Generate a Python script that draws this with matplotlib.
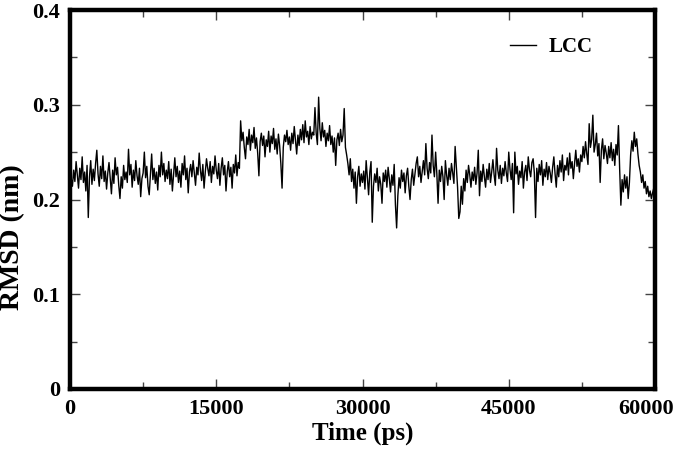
import matplotlib
matplotlib.use("Agg")
import matplotlib.pyplot as plt
from matplotlib.ticker import MultipleLocator
import matplotlib.transforms as mtransforms

time_step_ps = 125
rmsd_rows = [
    [0.210, 0.222, 0.214, 0.231, 0.219, 0.240, 0.226, 0.212, 0.233, 0.221, 0.245, 0.218, 0.229, 0.209, 0.236, 0.181, 0.224, 0.241, 0.216, 0.232],
    [0.220, 0.238, 0.252, 0.227, 0.214, 0.235, 0.222, 0.246, 0.219, 0.230, 0.211, 0.228, 0.239, 0.223, 0.206, 0.231, 0.217, 0.244, 0.226, 0.234],
    [0.215, 0.201, 0.224, 0.212, 0.236, 0.221, 0.229, 0.218, 0.253, 0.226, 0.237, 0.213, 0.231, 0.220, 0.241, 0.225, 0.216, 0.233, 0.203, 0.222],
    [0.228, 0.250, 0.223, 0.235, 0.214, 0.205, 0.227, 0.248, 0.221, 0.233, 0.217, 0.229, 0.210, 0.236, 0.224, 0.250, 0.226, 0.238, 0.219, 0.231],
    [0.222, 0.240, 0.216, 0.232, 0.209, 0.227, 0.244, 0.224, 0.235, 0.218, 0.230, 0.213, 0.238, 0.226, 0.246, 0.221, 0.233, 0.207, 0.229, 0.237],
    [0.224, 0.241, 0.228, 0.215, 0.234, 0.226, 0.249, 0.231, 0.220, 0.237, 0.212, 0.229, 0.243, 0.233, 0.225, 0.240, 0.218, 0.235, 0.227, 0.246],
    [0.231, 0.222, 0.238, 0.215, 0.233, 0.244, 0.226, 0.236, 0.209, 0.229, 0.240, 0.224, 0.234, 0.212, 0.237, 0.228, 0.247, 0.225, 0.239, 0.233],
    [0.283, 0.262, 0.271, 0.255, 0.243, 0.266, 0.258, 0.274, 0.252, 0.268, 0.260, 0.276, 0.254, 0.265, 0.249, 0.225, 0.261, 0.270, 0.257, 0.267],
    [0.245, 0.263, 0.256, 0.272, 0.250, 0.267, 0.259, 0.275, 0.253, 0.264, 0.248, 0.269, 0.257, 0.238, 0.212, 0.255, 0.268, 0.261, 0.273, 0.258],
    [0.266, 0.252, 0.270, 0.259, 0.277, 0.262, 0.248, 0.268, 0.257, 0.274, 0.263, 0.279, 0.260, 0.283, 0.266, 0.272, 0.258, 0.277, 0.264, 0.271],
    [0.268, 0.297, 0.270, 0.258, 0.308, 0.275, 0.262, 0.281, 0.266, 0.273, 0.256, 0.270, 0.262, 0.278, 0.258, 0.267, 0.250, 0.265, 0.236, 0.263],
    [0.270, 0.257, 0.274, 0.261, 0.268, 0.296, 0.255, 0.247, 0.238, 0.226, 0.243, 0.219, 0.232, 0.212, 0.229, 0.196, 0.224, 0.235, 0.214, 0.227],
    [0.218, 0.230, 0.211, 0.241, 0.223, 0.205, 0.229, 0.240, 0.176, 0.214, 0.227, 0.218, 0.233, 0.209, 0.224, 0.216, 0.196, 0.228, 0.219, 0.231],
    [0.213, 0.234, 0.222, 0.208, 0.226, 0.215, 0.237, 0.195, 0.170, 0.204, 0.223, 0.212, 0.231, 0.219, 0.228, 0.207, 0.225, 0.233, 0.214, 0.200],
    [0.221, 0.232, 0.215, 0.227, 0.238, 0.245, 0.224, 0.235, 0.218, 0.230, 0.241, 0.226, 0.259, 0.233, 0.222, 0.239, 0.228, 0.268, 0.236, 0.224],
    [0.250, 0.227, 0.196, 0.231, 0.219, 0.235, 0.224, 0.200, 0.241, 0.226, 0.215, 0.233, 0.221, 0.238, 0.228, 0.217, 0.256, 0.234, 0.213, 0.180],
    [0.187, 0.214, 0.195, 0.222, 0.209, 0.231, 0.218, 0.236, 0.226, 0.213, 0.229, 0.220, 0.234, 0.216, 0.228, 0.252, 0.204, 0.230, 0.219, 0.237],
    [0.224, 0.213, 0.232, 0.221, 0.238, 0.218, 0.229, 0.242, 0.226, 0.215, 0.254, 0.231, 0.222, 0.236, 0.217, 0.233, 0.225, 0.240, 0.228, 0.219],
    [0.250, 0.232, 0.221, 0.238, 0.186, 0.250, 0.227, 0.235, 0.216, 0.230, 0.223, 0.240, 0.212, 0.229, 0.236, 0.220, 0.245, 0.231, 0.224, 0.239],
    [0.243, 0.228, 0.181, 0.233, 0.219, 0.237, 0.226, 0.241, 0.215, 0.232, 0.224, 0.239, 0.221, 0.235, 0.228, 0.218, 0.234, 0.245, 0.227, 0.213],
    [0.236, 0.224, 0.241, 0.229, 0.247, 0.220, 0.236, 0.231, 0.244, 0.226, 0.249, 0.233, 0.240, 0.222, 0.238, 0.252, 0.235, 0.243, 0.229, 0.247],
    [0.240, 0.256, 0.244, 0.261, 0.248, 0.237, 0.280, 0.255, 0.263, 0.289, 0.250, 0.258, 0.270, 0.246, 0.259, 0.218, 0.252, 0.264, 0.243, 0.257],
    [0.249, 0.238, 0.256, 0.244, 0.260, 0.241, 0.253, 0.236, 0.258, 0.247, 0.278, 0.232, 0.194, 0.221, 0.208, 0.226, 0.212, 0.224, 0.201, 0.218],
    [0.247, 0.262, 0.251, 0.271, 0.256, 0.264, 0.248, 0.236, 0.229, 0.218, 0.226, 0.212, 0.219, 0.206, 0.214, 0.203, 0.209, 0.201, 0.207, 0.212],
    [0.216],
]
rmsd_nm = [v for row in rmsd_rows for v in row]
time_ps = [i * time_step_ps for i in range(len(rmsd_nm))]

series_label = "LCC"
x_ticks = [0, 15000, 30000, 45000, 60000]
y_ticks = [0, 0.1, 0.2, 0.3, 0.4]
y_tick_labels = ["0", "0.1", "0.2", "0.3", "0.4"]

plt.rcParams['font.family'] = ['Liberation Serif', 'DejaVu Serif']
plt.rcParams['font.weight'] = 'bold'

fig = plt.figure(figsize=(6.75, 4.5), dpi=100)
ax = fig.add_axes([70/675, 1 - 389/450, 585/675, 379/450])

ax.plot(time_ps, rmsd_nm, color='black', lw=1.0, label=series_label)

ax.set_xlim(0, 60000)
ax.set_ylim(0, 0.4)
ax.set_xticks(x_ticks)
ax.set_xticklabels([str(t) for t in x_ticks])
ax.set_yticks(y_ticks)
ax.set_yticklabels(y_tick_labels)
ax.xaxis.set_minor_locator(MultipleLocator(7500))
ax.yaxis.set_minor_locator(MultipleLocator(0.05))

ax.tick_params(which='both', direction='in', top=True, right=True,
               width=1.0, labelsize=16, color='#444444')
ax.tick_params(which='major', length=7, pad=7)
ax.tick_params(which='minor', length=5)
for lab in ax.get_xticklabels() + ax.get_yticklabels():
    lab.set_fontweight('bold')

# keep the last x label inside the figure
last = ax.get_xticklabels()[-1]
last.set_transform(last.get_transform() +
                   mtransforms.ScaledTranslation(-9/100, 0, fig.dpi_scale_trans))

for sp in ax.spines.values():
    sp.set_linewidth(3.2)

ax.set_xlabel("Time (ps)", fontsize=18, fontweight='bold', labelpad=2)
ax.set_ylabel("RMSD (nm)", fontsize=20, fontweight='bold')
ax.yaxis.set_label_coords(-0.077, 0.40)

leg = ax.legend(loc='upper right', bbox_to_anchor=(0.925, 0.978), frameon=False,
                fontsize=15, handlelength=1.25, handletextpad=0.6)
for t in leg.get_texts():
    t.set_fontweight('bold')

fig.savefig("out.png", dpi=100)
